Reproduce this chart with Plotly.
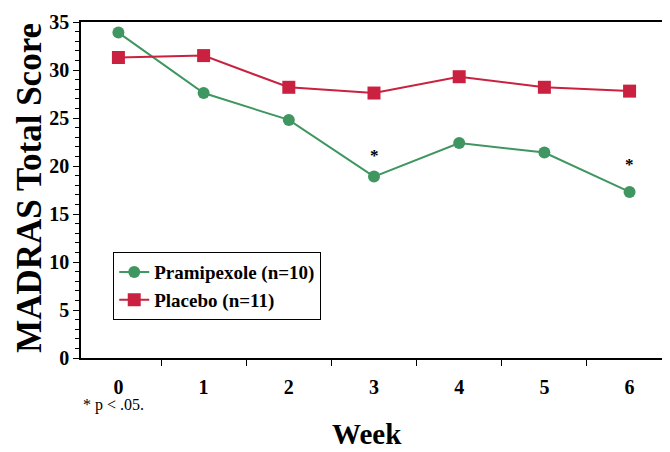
import plotly.graph_objects as go

weeks = ["0", "1", "2", "3", "4", "5", "6"]
pramipexole = [33.9, 27.6, 24.8, 18.9, 22.4, 21.4, 17.3]
placebo = [31.3, 31.5, 28.2, 27.6, 29.3, 28.2, 27.8]
sig_weeks = ["3", "6"]
sig_y = [21.1, 20.2]

GREEN = "#3f9660"
RED = "#c9213f"
FONT = "Liberation Serif"

fig = go.Figure()
fig.add_trace(go.Scatter(x=weeks, y=pramipexole, mode="lines+markers",
                         name="Pramipexole (n=10)",
                         line=dict(color=GREEN, width=2),
                         marker=dict(symbol="circle", size=12, color=GREEN)))
fig.add_trace(go.Scatter(x=weeks, y=placebo, mode="lines+markers",
                         name="Placebo (n=11)",
                         line=dict(color=RED, width=2),
                         marker=dict(symbol="square", size=13, color=RED)))

for w, yv in zip(sig_weeks, sig_y):
    fig.add_annotation(x=w, y=yv, xref="x", yref="y", text="*",
                       showarrow=False,
                       font=dict(family=FONT, size=17, color="black", weight="bold"))

# page body has an 8px margin: figure placed at (8, 8)
fig.update_layout(
    width=662, height=444,
    margin=dict(l=73, r=3, t=14, b=94),
    paper_bgcolor="white", plot_bgcolor="white",
    font=dict(family=FONT, color="black"),
    showlegend=True,
    legend=dict(x=0.055, y=0.315, xanchor="left", yanchor="top",
                bgcolor="white", bordercolor="black", borderwidth=1,
                font=dict(family=FONT, size=19, color="black", weight="bold"),
                tracegroupgap=0, itemwidth=30),
    xaxis=dict(type="category", showline=True, linecolor="black", linewidth=1.5,
               mirror=True, ticks="outside", tickson="boundaries", ticklen=6,
               tickcolor="black", showgrid=False, zeroline=False,
               tickfont=dict(family=FONT, size=20, color="black", weight="bold"),
               ticklabelstandoff=10),
    yaxis=dict(range=[0, 35], tickvals=[0, 5, 10, 15, 20, 25, 30, 35],
               showline=True, linecolor="black", linewidth=1.5,
               ticks="outside", ticklen=6, tickcolor="black",
               minor=dict(dtick=1, ticks="outside", ticklen=4, tickcolor="black"),
               showgrid=False, zeroline=False,
               tickfont=dict(family=FONT, size=20, color="black", weight="bold")),
)

fig.add_annotation(x=-0.0873, y=0.506, xref="paper", yref="paper",
                   text="<b>MADRAS Total Score</b>", textangle=-90, showarrow=False,
                   xanchor="center", yanchor="middle",
                   font=dict(family=FONT, size=35, color="black"))
fig.add_annotation(x=0.488, y=-0.226, xref="paper", yref="paper",
                   text="<b>Week</b>", showarrow=False, xanchor="center", yanchor="middle",
                   font=dict(family=FONT, size=29, color="black"))
fig.add_annotation(x=0.0, y=-0.14, xref="paper", yref="paper",
                   text="* p < .05.", showarrow=False, xanchor="left", yanchor="middle",
                   font=dict(family=FONT, size=16, color="black"))

fig.write_html("out.html")
